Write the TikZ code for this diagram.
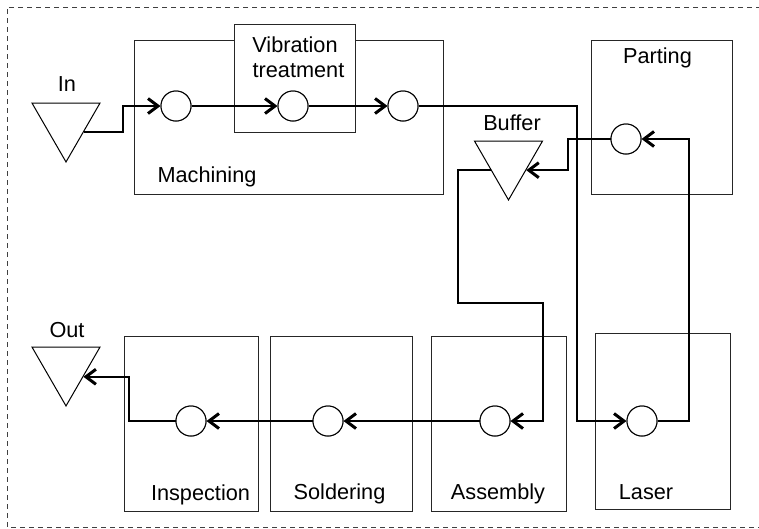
\documentclass[tikz,border=0pt]{standalone}
\usepackage{fontspec}
\setmainfont{Liberation Sans}
\usetikzlibrary{arrows.meta,shapes.geometric,calc}
\begin{document}
\begin{tikzpicture}[x=1pt,y=-1pt,
  lbl/.style={font=\fontsize{21.7}{25}\selectfont,inner sep=0pt,anchor=base},
  boxnode/.style={draw=black!85,line width=1pt,fill=white,anchor=north west,inner sep=0pt},
  station/.style={circle,draw=black,line width=1pt,fill=white,minimum size=30pt,inner sep=0pt},
  store/.style={regular polygon,regular polygon sides=3,shape border rotate=180,draw=black,line width=1pt,fill=white,minimum size=78.5pt,inner sep=0pt},
  conn/.style={line width=2.2pt,line join=miter},
  flow/.style={conn,-{Straight Barb[length=10pt,width=15pt,line width=3pt]}}]
\useasboundingbox (0,0) rectangle (759,528);
% outer dashed frame
\draw[black!75,line width=1pt,dash pattern=on 5pt off 4pt] (770,7) -- (7,7) -- (7,527) -- (770,527);
% boxes
\node[boxnode,minimum width=309pt,minimum height=154pt] (mach) at (134,40) {};
\node[boxnode,minimum width=121pt,minimum height=108pt] (vib) at (234,24) {};
\node[boxnode,minimum width=141pt,minimum height=154pt] (part) at (591,40) {};
\node[boxnode,minimum width=135pt,minimum height=176pt] (laser) at (595,333) {};
\node[boxnode,minimum width=135pt,minimum height=175pt] (asm) at (431,336) {};
\node[boxnode,minimum width=142pt,minimum height=175pt] (sold) at (270,336) {};
\node[boxnode,minimum width=134pt,minimum height=175pt] (insp) at (124,336) {};
% labels
\node[lbl] (tin) at (67,91) {In};
\node[lbl] (tout) at (67,337) {Out};
\node[lbl] (tbuf) at (512,130) {Buffer};
\node[lbl] (tvib1) at (295,52) {Vibration};
\node[lbl] (tvib2) at (298.5,77) {treatment};
\node[lbl] (tmach) at (207,182) {Machining};
\node[lbl] (tpart) at (657.5,63) {Parting};
\node[lbl] (tlaser) at (646,499.5) {Laser};
\node[lbl] (tasm) at (498,499.5) {Assembly};
\node[lbl] (tsold) at (339.5,499) {Soldering};
\node[lbl] (tinsp) at (200.5,500.5) {Inspection};
% stores
\node[store] (in) at (66,122.7) {};
\node[store] (out) at (66,366.7) {};
\node[store] (buf) at (508.5,160.7) {};
% stations
\node[station] (c1) at (176,106) {};
\node[station] (c2) at (293,106) {};
\node[station] (c3) at (403,106) {};
\node[station] (L) at (642,421) {};
\node[station] (P) at (626,139) {};
\node[station] (A) at (495,421) {};
\node[station] (S) at (328,421) {};
\node[station] (I) at (191,421) {};
% bend points
\coordinate (k1) at (123,106);
\coordinate (k2) at (577,106);
\coordinate (k3) at (689,421);
\coordinate (k4) at (568,139);
\coordinate (k5) at (458,303);
\coordinate (k6) at (543,421);
\coordinate (k7) at (129,421);
% connectors
\draw[flow] (in.-28) -| (k1) -- (c1.west);
\draw[flow] (c1.east) -- (c2.west);
\draw[flow] (c2.east) -- (c3.west);
\draw[flow] (c3.east) -- (k2) |- (L.west);
\draw[flow] (L.east) -- (k3) |- (P.east);
\draw[flow] (P.west) -- (k4) |- (buf.-28);
\draw[flow] (buf.-152) -| (k5) -| (k6) -- (A.east);
\draw[flow] (A.west) -- (S.east);
\draw[flow] (S.west) -- (I.east);
\draw[flow] (I.west) -- (k7) |- (out.-30);
% redraw stations on top
\foreach \n in {c1,c2,c3,L,P,A,S,I}{\draw[line width=1pt,fill=white] (\n) circle (15pt);}
\end{tikzpicture}
\end{document}
